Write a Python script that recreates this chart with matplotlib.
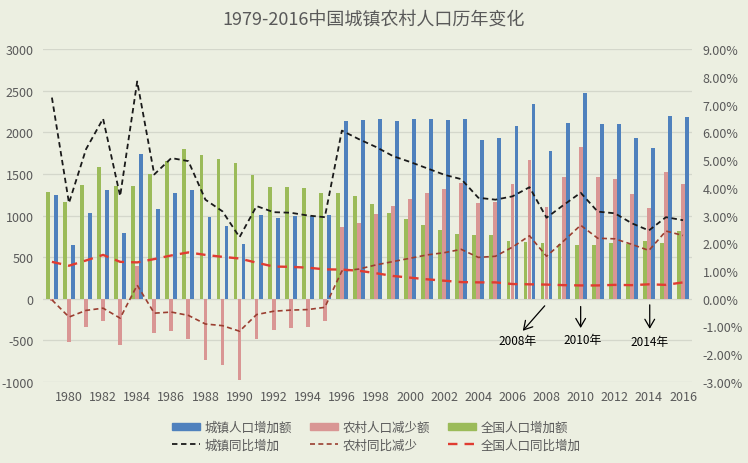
import matplotlib
matplotlib.use("Agg")
import matplotlib.pyplot as plt
import numpy as np
from matplotlib.patches import Patch
from matplotlib.lines import Line2D
from matplotlib.ticker import FuncFormatter

plt.rcParams['font.family'] = ['Noto Sans CJK SC', 'DejaVu Sans']

years = np.arange(1979, 2017)

# 城镇人口增加额 (万人)
urban_inc = [1250, 645, 1031, 1309, 794, 1743, 1077, 1272, 1308, 987,
             879, 655, 1008, 972, 998, 996, 1005, 2130, 2145, 2159,
             2140, 2158, 2158, 2148, 2164, 1907, 1929, 2076, 2345, 1770,
             2109, 2466, 2101, 2103, 1929, 1805, 2200, 2182]
# 农村人口减少额 (万人)
rural_dec = [-33, -518, -336, -273, -560, 394, -417, -384, -485, -739,
             -799, -974, -482, -376, -348, -337, -266, 862, 908, 1024,
             1115, 1201, 1274, 1322, 1390, 1146, 1161, 1384, 1664, 1097,
             1461, 1825, 1457, 1434, 1261, 1095, 1520, 1373]
# 全国人口增加额 (万人)
total_inc = [1283, 1163, 1367, 1582, 1354, 1349, 1494, 1656, 1793, 1726,
             1678, 1629, 1490, 1348, 1346, 1333, 1271, 1268, 1237, 1135,
             1025, 957, 884, 826, 774, 761, 768, 692, 681, 673,
             652, 641, 644, 668, 660, 690, 672, 809]

# 同比 (%)
urban_pct = [7.25, 3.45, 5.39, 6.49, 3.70, 7.83, 4.48, 5.07, 4.96, 3.57,
             3.15, 2.22, 3.34, 3.12, 3.10, 3.00, 2.94, 6.06, 5.75, 5.47,
             5.14, 4.93, 4.70, 4.47, 4.31, 3.64, 3.57, 3.69, 4.02, 2.92,
             3.38, 3.82, 3.14, 3.08, 2.72, 2.46, 2.94, 2.83]
rural_pct = [-0.04, -0.66, -0.42, -0.34, -0.70, 0.49, -0.52, -0.48, -0.60, -0.91,
             -0.97, -1.17, -0.57, -0.45, -0.41, -0.39, -0.31, 1.00, 1.07, 1.22,
             1.34, 1.46, 1.58, 1.66, 1.78, 1.49, 1.53, 1.86, 2.27, 1.53,
             2.08, 2.65, 2.18, 2.16, 1.96, 1.74, 2.44, 2.28]
total_pct = [1.33, 1.19, 1.38, 1.58, 1.33, 1.31, 1.43, 1.56, 1.67, 1.58,
             1.51, 1.45, 1.30, 1.16, 1.15, 1.12, 1.06, 1.05, 1.01, 0.92,
             0.82, 0.76, 0.70, 0.65, 0.60, 0.59, 0.59, 0.53, 0.52, 0.51,
             0.49, 0.48, 0.48, 0.50, 0.49, 0.52, 0.50, 0.59]

notes = ["2008年", "2010年", "2014年"]

bg = '#ECEFE1'
blue = '#4F81BD'
pink = '#D99694'
green = '#9BBB59'
gray = '#595959'

fig = plt.figure(figsize=(7.48, 4.64), dpi=100, facecolor=bg)
ax = fig.add_axes([0.058, 0.1746, 0.8665, 0.7176], facecolor=bg)
ax2 = ax.twinx()

w = 0.235
ax.bar(years - w, total_inc, width=w * 0.95, color=green, zorder=2)
ax.bar(years, rural_dec, width=w * 0.95, color=pink, zorder=2)
ax.bar(years + w, urban_inc, width=w * 0.95, color=blue, zorder=2)

ax2.plot(years, urban_pct, color='#1a1a1a', lw=1.3, dashes=(3, 2))
ax2.plot(years, rural_pct, color='#9A3E30', lw=1.2, dashes=(3, 2))
ax2.plot(years, total_pct, color='#E03C31', lw=1.7, dashes=(4, 3))

ax.set_xlim(1978.5, 2016.5)
ax.set_ylim(-1000, 3000)
ax.set_yticks(np.arange(-1000, 3001, 500))
ax.yaxis.set_major_formatter(FuncFormatter(lambda v, p: str(int(v))))
ax2.set_ylim(-3, 9)
ax2.set_yticks(np.arange(-3, 10, 1))
ax2.yaxis.set_major_formatter(FuncFormatter(lambda v, p: f"{v:.2f}%"))
ax.set_xticks(np.arange(1980, 2017, 2))

ax.grid(axis='y', color='#D4D7CB', lw=0.9, zorder=0)
ax.set_axisbelow(True)
for a in (ax, ax2):
    for s in a.spines.values():
        s.set_visible(False)
    a.tick_params(length=0, labelsize=9, labelcolor=gray)
ax.tick_params(axis='y', pad=7)
ax2.tick_params(axis='y', pad=8)
ax.tick_params(axis='x', pad=6)

fig.text(0.5, 0.955, "1979-2016中国城镇农村人口历年变化", ha='center', va='center',
         fontsize=13, color=gray)

# annotations
tails = [(2008.0, -60), (2010.0, -60), (2014.05, -40)]
tips = [(2006.5, -410), (2010.0, -385), (2014.05, -395)]
text_pos = [(2006.3, -505), (2010.1, -490), (2014.05, -515)]
for n, t0, t1, tp in zip(notes, tails, tips, text_pos):
    ax.annotate("", xy=t1, xytext=t0,
                arrowprops=dict(arrowstyle='->,head_length=0.6,head_width=0.35',
                                color='black', lw=0.9), zorder=5)
    ax.text(tp[0], tp[1], n, ha='center', va='center', fontsize=8.5,
            color='black', zorder=5)

handles = [Patch(color=blue, label='城镇人口增加额'),
           Line2D([], [], color='#1a1a1a', lw=1.3, dashes=(3, 2), label='城镇同比增加'),
           Patch(color=pink, label='农村人口减少额'),
           Line2D([], [], color='#9A3E30', lw=1.2, dashes=(3, 2), label='农村同比减少'),
           Patch(color=green, label='全国人口增加额'),
           Line2D([], [], color='#E03C31', lw=1.7, dashes=(4, 3), label='全国人口同比增加')]
leg = fig.legend(handles=handles, ncol=3, loc='center', bbox_to_anchor=(0.503, 0.058),
                 frameon=False, fontsize=9, handlelength=2.2, handleheight=0.6,
                 handletextpad=0.35, columnspacing=1.5, labelspacing=0.35)
for t in leg.get_texts():
    t.set_color(gray)

fig.savefig("out.png", dpi=100, facecolor=bg)
